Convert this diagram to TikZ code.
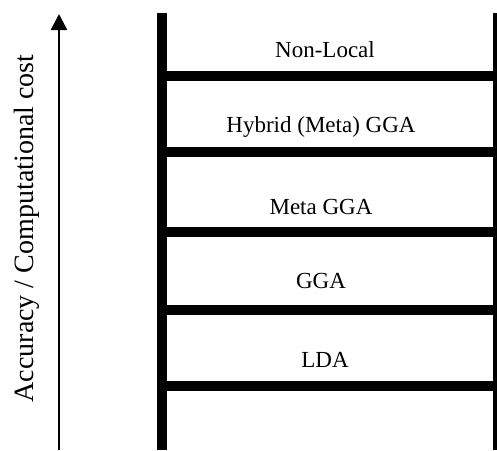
\documentclass[tikz,border=0pt]{standalone}
\usepackage{fontspec}
\setmainfont{Liberation Serif}
\usetikzlibrary{arrows.meta}
\begin{document}
\begin{tikzpicture}[x=1pt,y=-1pt,
  rail/.style={line width=10pt,line cap=butt},
  thinrail/.style={line width=4pt,line cap=butt},
  rung/.style={line width=10pt,line cap=butt},
  lbl/.style={anchor=base,inner sep=0pt,font=\fontsize{23}{27}\selectfont},
  axislbl/.style={anchor=base,inner sep=0pt,rotate=90,font=\fontsize{28}{32}\selectfont}]
\useasboundingbox (0,0) rectangle (497,450);
% axis arrow
\coordinate (abot) at (59,450);
\coordinate (atop) at (59,14);
\draw[line width=2.5pt,-{Triangle[length=16pt,width=16pt]}] (abot) -- (atop);
\node[axislbl] (axis) at (33,228.5) {Accuracy / Computational cost};
% rails
\coordinate (lt) at (162,13);
\coordinate (lb) at (162,450);
\coordinate (rt) at (495,13);
\coordinate (rb) at (495,450);
\draw[rail] (lt) -- (lb);
\draw[thinrail] (rt) -- (rb);
% rungs
\foreach \y in {76,151.5,232,310,386}{
  \draw[rung] (167,\y) -- (493,\y);
}
% labels
\node[lbl] (nl) at (325,57) {Non-Local};
\node[lbl] (hy) at (321,132) {Hybrid (Meta) GGA};
\node[lbl] (mg) at (321,214) {Meta GGA};
\node[lbl] (gg) at (321,288) {GGA};
\node[lbl] (ld) at (325,367) {LDA};
\end{tikzpicture}
\end{document}
